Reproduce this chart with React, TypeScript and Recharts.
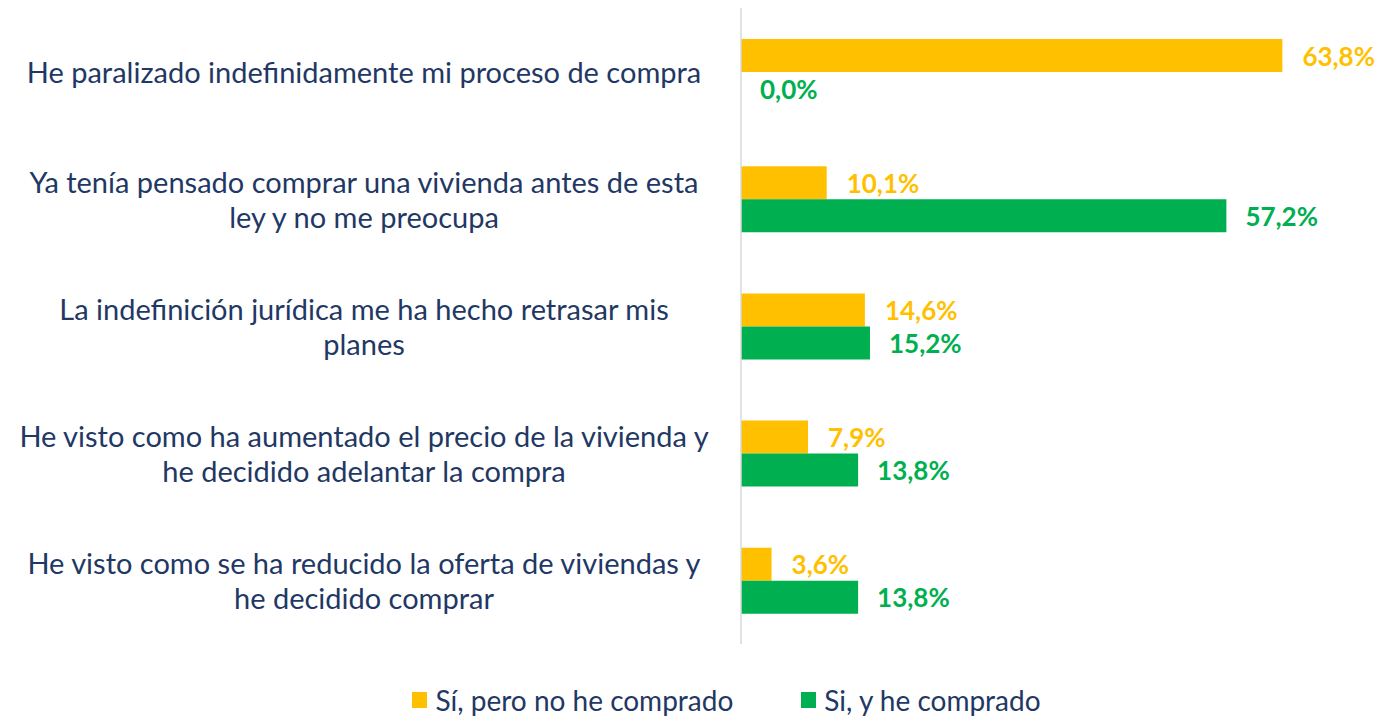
import { BarChart, Bar, XAxis, YAxis, Legend, LabelList } from "recharts";

const categories = [
  "He paralizado indefinidamente mi proceso de compra",
  "Ya tenía pensado comprar una vivienda antes de esta\nley y no me preocupa",
  "La indefinición jurídica me ha hecho retrasar mis\nplanes",
  "He visto como ha aumentado el precio de la vivienda y\nhe decidido adelantar la compra",
  "He visto como se ha reducido la oferta de viviendas y\nhe decidido comprar",
];
const noComprado = [63.8, 10.1, 14.6, 7.9, 3.6];
const comprado = [0.0, 57.2, 15.2, 13.8, 13.8];
const seriesNames = ["Sí, pero no he comprado", "Si, y he comprado"];

const data = categories.map((c, i) => ({
  category: c,
  noComprado: noComprado[i],
  comprado: comprado[i],
}));

const FONT = "Lato, 'Open Sans', sans-serif";
const NAVY = "#1F3864";
const YELLOW = "#FFC000";
const GREEN = "#00B050";

// category labels, centred in the left column, split on "\n"
function CategoryTick({ y, payload }: any) {
  const lines = String(payload.value).split("\n");
  const lh = 35;
  const y0 = y - ((lines.length - 1) * lh) / 2;
  return (
    <g>
      {lines.map((l, i) => (
        <text
          key={i}
          x={364}
          y={y0 + i * lh}
          textAnchor="middle"
          dominantBaseline="central"
          fill={NAVY}
          fontSize={29}
          fontFamily={FONT}
        >
          {l}
        </text>
      ))}
    </g>
  );
}

const fmt = (v: any) => `${Number(v).toFixed(1).replace(".", ",")}%`;

// value label to the right of the bar
const valueLabel = (color: string, offset: number) => (props: any) => {
  const { x, y, width, height, value } = props;
  return (
    <text
      x={Number(x) + Number(width || 0) + offset}
      y={Number(y) + Number(height) / 2}
      dominantBaseline="central"
      fill={color}
      fontSize={26}
      fontWeight={700}
      fontFamily={FONT}
    >
      {fmt(value)}
    </text>
  );
};

function LegendContent() {
  const items = [
    { name: seriesNames[0], color: YELLOW },
    { name: seriesNames[1], color: GREEN },
  ];
  return (
    <div style={{ display: "flex", justifyContent: "center", gap: 68, fontFamily: FONT, fontSize: 28, color: NAVY, lineHeight: "32px", paddingLeft: 66 }}>
      {items.map((it) => (
        <span key={it.name} style={{ display: "flex", alignItems: "center", gap: 8 }}>
          <span style={{ width: 15, height: 16, background: it.color, display: "inline-block" }} />
          {it.name}
        </span>
      ))}
    </div>
  );
}

export default function App() {
  return (
    <div style={{ marginTop: -8, marginLeft: -8, background: "#fff", width: 1387, height: 717 }}>
      <BarChart
        width={1387}
        height={717}
        data={data}
        layout="vertical"
        margin={{ top: 8, right: 52, left: 0, bottom: 41 }}
        barGap={0}
        barSize={33}
      >
        <XAxis type="number" domain={[0, 70]} hide />
        <YAxis
          type="category"
          dataKey="category"
          width={741}
          tickLine={false}
          axisLine={{ stroke: "#D9D9D9", strokeWidth: 1.5 }}
          tick={<CategoryTick />}
          interval={0}
        />
        <Legend
          verticalAlign="bottom"
          content={<LegendContent />}
          wrapperStyle={{ top: 684, bottom: "auto", left: 0, width: 1387 }}
        />
        <Bar dataKey="noComprado" name={seriesNames[0]} fill={YELLOW} isAnimationActive={false}>
          <LabelList dataKey="noComprado" content={valueLabel(YELLOW, 20)} />
        </Bar>
        <Bar
          dataKey="comprado"
          name={seriesNames[1]}
          fill={GREEN}
          minPointSize={(v: number) => (v === 0 ? 0.01 : 0)}
          isAnimationActive={false}
        >
          <LabelList dataKey="comprado" content={valueLabel(GREEN, 19)} />
        </Bar>
      </BarChart>
    </div>
  );
}
